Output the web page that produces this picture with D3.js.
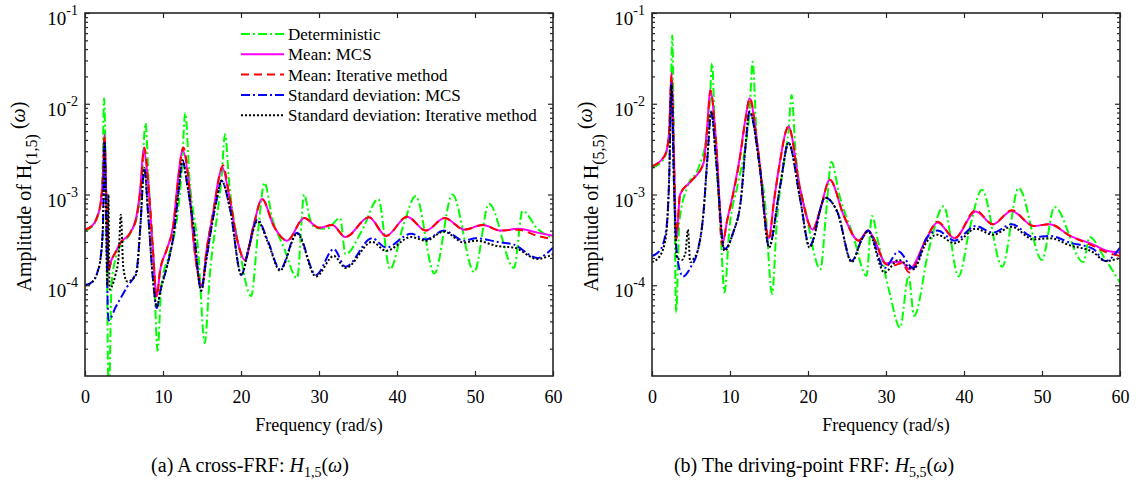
<!DOCTYPE html>
<html>
<head>
<meta charset="utf-8">
<script src="https://cdn.jsdelivr.net/npm/d3@7"></script>
<style>
  body { margin: 0; background: #fff; }
  svg { display: block; }
  text { font-family: "Liberation Serif", "Times New Roman", serif; fill: #000; }
</style>
</head>
<body>
<svg id="chart" width="1141" height="484"></svg>
<script>
// ---- data: [frequency (rad/s), amplitude] ----
const xTicks = [0, 10, 20, 30, 40, 50, 60];
const yTickExps = [-1, -2, -3, -4];

// (a) cross-FRF H(1,5)
const detA = [[0,4.0e-4],[1,4.5e-4],[1.8,6.5e-4],[2.2,1.3e-3],[2.45,1.15e-2],[2.75,5e-4],[3.05,5e-6],[3.4,1.0e-4],[3.8,1.8e-4],[4.5,2.7e-4],[5.8,3.7e-4],[6.8,6.5e-4],[7.3,1.5e-3],[7.75,6.1e-3],[8.2,1.2e-3],[8.8,2.0e-4],[9.3,1.9e-5],[9.8,1.0e-4],[10.8,2.2e-4],[11.8,5.5e-4],[12.4,1.8e-3],[12.85,7.9e-3],[13.4,1.5e-3],[14.5,2.5e-4],[15.35,2.3e-5],[16.0,1.3e-4],[17.0,6.5e-4],[17.5,1.5e-3],[17.95,4.6e-3],[18.5,1.3e-3],[19.8,2.5e-4],[21.3,7.6e-5],[22.2,4e-4],[23.0,1.35e-3],[24.0,5.5e-4],[25.5,2.6e-4],[27.2,1.2e-4],[28.1,1.0e-3],[28.8,5.5e-4],[29.5,4.3e-4],[31,4.2e-4],[32.7,5.5e-4],[33.4,2.2e-4],[35.5,4.0e-4],[37.6,8.9e-4],[39.1,1.5e-4],[40.8,4.5e-4],[42.4,9.6e-4],[44.8,1.35e-4],[47.1,1.0e-3],[49.9,1.4e-4],[51.8,7.9e-4],[55,1.55e-4],[56.1,6.6e-4],[58,4.2e-4],[60,3.3e-4]];
const meanMcsA = [[0,4.1e-4],[1,4.6e-4],[1.6,5.8e-4],[2.0,8e-4],[2.3,1.6e-3],[2.5,4.6e-3],[2.7,1.2e-3],[3.05,1.5e-4],[3.4,1.9e-4],[3.9,2.3e-4],[4.5,2.9e-4],[5.8,3.8e-4],[6.6,5.8e-4],[7.1,1.2e-3],[7.5,3.1e-3],[8.1,1.35e-3],[8.7,2.5e-4],[9.2,7.5e-5],[9.6,1.4e-4],[10.5,2.5e-4],[11.3,4.5e-4],[12.0,1.7e-3],[12.5,3.1e-3],[13.3,1.35e-3],[13.9,3.2e-4],[15.0,1.0e-4],[15.6,2.5e-4],[16.5,6.9e-4],[17.1,1.45e-3],[17.6,2.0e-3],[18.4,1.05e-3],[19.5,3.2e-4],[20.5,1.9e-4],[21.6,4.5e-4],[22.7,8.9e-4],[24.2,4.5e-4],[25.9,3.1e-4],[28.1,5.5e-4],[30,4.3e-4],[31.7,4.6e-4],[33.4,3.4e-4],[36.4,5.6e-4],[38.6,3.5e-4],[41.3,5.7e-4],[43.7,4.0e-4],[46.1,5.5e-4],[48.6,4.1e-4],[51,4.6e-4],[53.3,4.0e-4],[55.5,4.2e-4],[58,3.8e-4],[60,3.5e-4]];
const meanIterA = [[0,4.1e-4],[1,4.6e-4],[1.6,5.8e-4],[2.0,8e-4],[2.3,1.6e-3],[2.5,4.5e-3],[2.7,1.2e-3],[3.05,1.5e-4],[3.4,1.9e-4],[3.9,2.3e-4],[4.5,2.9e-4],[5.8,3.8e-4],[6.6,5.6e-4],[7.1,1.1e-3],[7.6,3.3e-3],[8.1,1.4e-3],[8.7,2.5e-4],[9.2,7.5e-5],[9.6,1.4e-4],[10.5,2.5e-4],[11.3,4.4e-4],[12.0,1.6e-3],[12.6,3.3e-3],[13.3,1.4e-3],[13.9,3.2e-4],[15.0,1.0e-4],[15.6,2.5e-4],[16.5,6.8e-4],[17.1,1.4e-3],[17.7,2.1e-3],[18.4,1.1e-3],[19.5,3.2e-4],[20.5,1.9e-4],[21.6,4.5e-4],[22.7,8.9e-4],[24.2,4.5e-4],[25.9,3.1e-4],[28.1,5.5e-4],[30,4.3e-4],[31.7,4.6e-4],[33.4,3.4e-4],[36.4,5.6e-4],[38.6,3.5e-4],[41.3,5.7e-4],[43.7,4.0e-4],[46.1,5.5e-4],[48.6,4.1e-4],[51,4.6e-4],[53.3,4.0e-4],[55.5,4.1e-4],[58,3.5e-4],[60,3.2e-4]];
const stdMcsA = [[0,1.0e-4],[1,1.1e-4],[1.6,1.4e-4],[2.0,2.0e-4],[2.3,4.5e-4],[2.5,3.9e-3],[2.7,6e-4],[3.0,4.1e-5],[4.0,5.9e-5],[5.4,9.6e-5],[6.6,1.45e-4],[7.1,4.5e-4],[7.6,1.96e-3],[8.1,6e-4],[8.7,1.2e-4],[9.2,5.6e-5],[9.7,9e-5],[10.5,1.6e-4],[11.4,3.8e-4],[12.0,1.1e-3],[12.5,2.37e-3],[13.1,1.3e-3],[13.9,4.5e-4],[14.9,8.7e-5],[15.5,1.8e-4],[16.1,3.8e-4],[16.9,9e-4],[17.5,1.42e-3],[18.6,6.9e-4],[20.05,1.3e-4],[21.0,2.6e-4],[22.1,5.3e-4],[23.5,3.0e-4],[25,1.5e-4],[27.2,3.8e-4],[29.6,1.3e-4],[31.9,2.5e-4],[33.4,1.6e-4],[36.8,3.3e-4],[38.6,2.6e-4],[41.8,3.7e-4],[43.7,3.2e-4],[46,4.0e-4],[48.6,3.1e-4],[50.1,3.3e-4],[52.9,3.0e-4],[55,2.8e-4],[58,2.0e-4],[60,2.6e-4]];
const stdIterA = [[0,1.0e-4],[1,1.1e-4],[1.6,1.4e-4],[2.0,2.0e-4],[2.3,4.5e-4],[2.5,3.7e-3],[2.7,6e-4],[2.85,1.0e-4],[3.0,1.0e-3],[3.15,9e-5],[3.4,9.5e-5],[3.9,1.3e-4],[4.3,2.0e-4],[4.6,6.0e-4],[4.9,1.6e-4],[5.4,1.1e-4],[6.0,1.15e-4],[6.6,1.35e-4],[7.1,4.5e-4],[7.6,1.96e-3],[8.1,6e-4],[8.7,1.2e-4],[9.2,5.8e-5],[9.7,9e-5],[10.5,1.6e-4],[11.4,3.8e-4],[12.0,1.1e-3],[12.5,2.37e-3],[13.1,1.3e-3],[13.9,4.5e-4],[14.9,8.7e-5],[15.5,1.8e-4],[16.1,3.8e-4],[16.9,9e-4],[17.5,1.42e-3],[18.6,6.9e-4],[20.05,1.3e-4],[21.0,2.6e-4],[22.1,5.1e-4],[23.5,2.9e-4],[25,1.45e-4],[27.2,3.7e-4],[29.6,1.25e-4],[31.9,2.1e-4],[33.4,1.55e-4],[36.8,3.0e-4],[38.6,2.4e-4],[41.8,3.4e-4],[43.7,3.1e-4],[46,3.9e-4],[48.6,2.95e-4],[50.1,3.1e-4],[52.9,2.7e-4],[55,2.6e-4],[58,1.95e-4],[60,2.2e-4]];

// (b) driving-point FRF H(5,5)
const detB = [[0,2.0e-3],[1,2.2e-3],[1.8,2.8e-3],[2.2,5e-3],[2.45,2e-2],[2.6,5.7e-2],[2.8,4e-3],[3.1,5e-5],[3.5,5e-4],[4.5,1.2e-3],[6.0,2.0e-3],[7.0,4.5e-3],[7.4,1e-2],[7.7,2.8e-2],[8.1,4e-3],[8.7,6e-4],[9.3,8.3e-5],[9.9,4e-4],[11,1.3e-3],[12.0,3.5e-3],[12.5,8e-3],[12.9,2.9e-2],[13.4,4.5e-3],[14.5,8e-4],[15.4,8e-5],[16.0,5e-4],[17.0,2.5e-3],[17.5,5e-3],[17.9,1.25e-2],[18.4,3e-3],[19.8,6e-4],[21.6,1.5e-4],[22.3,6e-4],[23.0,2.3e-3],[24.0,1e-3],[25.8,3.5e-4],[27.5,1.27e-4],[28.2,5.8e-4],[29,3e-4],[30.5,8e-5],[31.8,3.4e-5],[32.9,1.27e-4],[33.6,4.6e-5],[35.5,2.5e-4],[37.4,7.4e-4],[39.3,1.25e-4],[40.8,4.5e-4],[42.3,1.13e-3],[44.9,1.6e-4],[47.0,1.18e-3],[50,1.9e-4],[51.6,7.3e-4],[55.3,1.8e-4],[56.1,3.4e-4],[58,2.0e-4],[60,1.07e-4]];
const meanMcsB = [[0,2.05e-3],[1,2.3e-3],[1.8,2.9e-3],[2.2,5e-3],[2.5,2.2e-2],[2.8,3e-3],[3.1,3.2e-4],[3.6,1.0e-3],[5.0,1.4e-3],[6.6,2.2e-3],[7.1,6e-3],[7.45,1.42e-2],[8.2,4e-3],[9.1,3.0e-4],[9.6,5e-4],[10.4,1.04e-3],[11.2,2.4e-3],[12.0,7e-3],[12.5,1.15e-2],[13.6,3.1e-3],[15.0,3.3e-4],[15.6,8e-4],[16.3,2.05e-3],[17.5,5.6e-3],[19.0,1.14e-3],[20.6,4.1e-4],[21.5,6.5e-4],[22.8,1.45e-3],[24.6,5.8e-4],[26.5,3.1e-4],[27.7,4.0e-4],[28.5,3.2e-4],[30,1.75e-4],[30.9,1.8e-4],[32,1.8e-4],[33,1.5e-4],[35.2,3.3e-4],[36.6,4.9e-4],[38.8,3.3e-4],[41.5,6.5e-4],[43.7,4.7e-4],[46.1,6.6e-4],[48.9,4.5e-4],[51,4.7e-4],[53.6,3.5e-4],[56.6,2.8e-4],[58.3,2.4e-4],[60,2.3e-4]];
const meanIterB = [[0,2.05e-3],[1,2.3e-3],[1.8,2.9e-3],[2.2,5e-3],[2.5,2.1e-2],[2.8,3e-3],[3.1,3.2e-4],[3.6,1.0e-3],[5.0,1.4e-3],[6.6,2.2e-3],[7.1,5.5e-3],[7.5,1.4e-2],[8.2,4e-3],[9.0,2.8e-4],[9.6,5e-4],[10.4,1.0e-3],[11.2,2.3e-3],[12.0,6.8e-3],[12.55,1.15e-2],[13.6,3.1e-3],[15.0,3.2e-4],[15.6,8e-4],[16.3,2.0e-3],[17.5,5.6e-3],[19.0,1.14e-3],[20.6,4.1e-4],[21.5,6.5e-4],[22.8,1.45e-3],[24.6,5.8e-4],[26.5,3.1e-4],[27.7,4.0e-4],[28.5,3.2e-4],[30,1.7e-4],[30.9,1.65e-4],[32,1.75e-4],[33,1.38e-4],[35.2,3.3e-4],[36.6,5.0e-4],[38.8,3.3e-4],[41.5,6.7e-4],[43.7,4.7e-4],[46.1,6.7e-4],[48.9,4.5e-4],[51,4.7e-4],[53.6,3.5e-4],[56.6,2.7e-4],[58.3,2.3e-4],[60,2.1e-4]];
const stdMcsB = [[0,2.1e-4],[1,2.4e-4],[1.8,4e-4],[2.2,1.5e-3],[2.5,1.7e-2],[2.8,1.5e-3],[3.2,2.1e-4],[4.0,1.25e-4],[5.0,1.6e-4],[5.8,2.3e-4],[6.6,6.3e-4],[7.1,2.5e-3],[7.6,8.2e-3],[8.2,2.5e-3],[9.3,2.5e-4],[10.4,3.8e-4],[11.4,8.8e-4],[12.0,3.5e-3],[12.5,8.2e-3],[13.8,2.05e-3],[15.0,2.7e-4],[16.4,1.2e-3],[17.5,3.7e-3],[19.0,8.8e-4],[20.2,2.7e-4],[22.2,9.2e-4],[23.8,6.3e-4],[25.6,1.85e-4],[26.9,3.2e-4],[27.7,4.0e-4],[29.8,1.55e-4],[31.6,2.35e-4],[33.5,1.55e-4],[35.2,3.3e-4],[36.6,4.0e-4],[38.8,3.1e-4],[41.5,4.5e-4],[43.7,3.8e-4],[46.1,4.7e-4],[48.9,3.4e-4],[51,3.5e-4],[53.6,2.95e-4],[56.6,2.5e-4],[58.1,1.85e-4],[60,2.6e-4]];
const stdIterB = [[0,1.8e-4],[1,2.1e-4],[1.8,3.5e-4],[2.2,1.5e-3],[2.5,1.6e-2],[2.8,1.5e-3],[3.2,2.0e-4],[3.8,1.9e-4],[4.3,2.3e-4],[4.6,4.1e-4],[4.9,1.8e-4],[5.4,2.0e-4],[5.8,2.3e-4],[6.6,6.3e-4],[7.1,2.5e-3],[7.6,8.2e-3],[8.2,2.5e-3],[9.3,2.4e-4],[10.4,3.8e-4],[11.4,8.8e-4],[12.0,3.5e-3],[12.5,8.2e-3],[13.8,2.05e-3],[15.0,2.6e-4],[16.4,1.2e-3],[17.5,3.7e-3],[19.0,8.8e-4],[20.2,2.6e-4],[22.2,9.2e-4],[23.8,6.3e-4],[25.6,1.8e-4],[26.9,3.2e-4],[27.7,3.9e-4],[29.8,1.38e-4],[31.6,1.9e-4],[33.5,1.5e-4],[35.2,3.0e-4],[36.6,3.6e-4],[38.8,2.9e-4],[41.5,4.2e-4],[43.7,3.6e-4],[46.1,4.4e-4],[48.9,3.2e-4],[51,3.3e-4],[53.6,2.75e-4],[56.6,2.3e-4],[58.1,1.85e-4],[60,2.0e-4]];

const legendLabels = ["Deterministic", "Mean: MCS", "Mean: Iterative method", "Standard deviation: MCS", "Standard deviation: Iterative method"];

// line styles, in drawing order
const styles = [
  { color: "#00ff00", dash: "9,3,2,3", width: 2 },
  { color: "#ff00ff", dash: null, width: 2 },
  { color: "#ff0000", dash: "8,5", width: 2 },
  { color: "#0000ff", dash: "9,3,2,3", width: 2 },
  { color: "#000000", dash: "2,2", width: 2 }
];

const svg = d3.select("#chart");
svg.append("rect").attr("width", 1141).attr("height", 484).attr("fill", "#fff");

const TOP = 13, BOTTOM = 376;

function drawPanel(opts) {
  const x = d3.scaleLinear().domain([0, 60]).range([opts.x0, opts.x1]);
  const y = d3.scaleLog().domain([1e-5, 1e-1]).range([BOTTOM, TOP]);
  const g = svg.append("g");

  const clipId = "clip-" + opts.id;
  svg.append("clipPath").attr("id", clipId)
    .append("rect").attr("x", opts.x0).attr("y", TOP)
    .attr("width", opts.x1 - opts.x0).attr("height", BOTTOM - TOP);

  const line = d3.line()
    .x(d => x(d[0]))
    .y(d => y(d[1]))
    .curve(d3.curveMonotoneX);

  const lines = g.append("g").attr("clip-path", "url(#" + clipId + ")");
  opts.series.forEach((s, i) => {
    lines.append("path")
      .attr("d", line(s))
      .attr("fill", "none")
      .attr("stroke", styles[i].color)
      .attr("stroke-width", styles[i].width)
      .attr("stroke-dasharray", styles[i].dash)
      .attr("stroke-linejoin", "round");
  });

  // minor ticks for log axis
  const minors = [];
  for (let e = -5; e < -1; e++) for (let m = 2; m <= 9; m++) minors.push(m * Math.pow(10, e));
  const majors = yTickExps.map(e => Math.pow(10, e));

  const axisColor = "#262626";
  function style(sel) {
    sel.select(".domain").remove();
    sel.selectAll("line").attr("stroke", axisColor).attr("stroke-width", 1.2);
  }

  g.append("g").attr("transform", `translate(0,${BOTTOM})`)
    .call(d3.axisBottom(x).tickValues(xTicks).tickSize(-5).tickSizeOuter(0).tickPadding(14))
    .call(style)
    .call(a => a.selectAll("text").attr("font-size", 18).attr("font-family", "Liberation Serif").attr("fill", "#000"));
  g.append("g").attr("transform", `translate(0,${TOP})`)
    .call(d3.axisTop(x).tickValues(xTicks).tickSize(-5).tickFormat("")).call(style);

  [[opts.x0, d3.axisLeft], [opts.x1, d3.axisRight]].forEach(([px, ax]) => {
    g.append("g").attr("transform", `translate(${px},0)`)
      .call(ax(y).tickValues(majors).tickSize(-5).tickFormat("")).call(style);
    g.append("g").attr("transform", `translate(${px},0)`)
      .call(ax(y).tickValues(minors).tickSize(-3).tickFormat("")).call(style);
  });

  // decade labels 10^e
  yTickExps.forEach(e => {
    const t = g.append("text")
      .attr("x", opts.x0 - 7)
      .attr("y", y(Math.pow(10, e)) + 12)
      .attr("text-anchor", "end")
      .attr("font-size", 19);
    t.append("tspan").text("10");
    t.append("tspan").attr("dy", -10).attr("font-size", 14).text(String(e));
  });

  g.append("rect")
    .attr("x", opts.x0).attr("y", TOP)
    .attr("width", opts.x1 - opts.x0).attr("height", BOTTOM - TOP)
    .attr("fill", "none").attr("stroke", axisColor).attr("stroke-width", 1.6);

  // axis titles
  g.append("text")
    .attr("x", (opts.x0 + opts.x1) / 2).attr("y", 431)
    .attr("text-anchor", "middle").attr("font-size", 18)
    .text("Frequency (rad/s)");

  const yl = g.append("text")
    .attr("transform", `translate(${opts.ylabelX},${(TOP + BOTTOM) / 2 + 2}) rotate(-90)`)
    .attr("text-anchor", "middle").attr("font-size", 20);
  yl.append("tspan").text("Amplitude of H");
  yl.append("tspan").attr("dy", 6).attr("font-size", 16).text(opts.sub);
  yl.append("tspan").attr("dy", -12).text("  (");
  yl.append("tspan").attr("font-style", "italic").text("ω");
  yl.append("tspan").text(")");

  // caption
  const cap = g.append("text")
    .attr("x", opts.capX).attr("y", 472)
    .attr("text-anchor", "middle").attr("font-size", 20);
  cap.append("tspan").text(opts.caption);
  cap.append("tspan").attr("font-style", "italic").text("H");
  cap.append("tspan").attr("dy", 5).attr("font-size", 14).text(opts.capSub);
  cap.append("tspan").attr("dy", -5).text("(");
  cap.append("tspan").attr("font-style", "italic").text("ω");
  cap.append("tspan").text(")");

  return { x, y, g };
}

drawPanel({
  id: "a", x0: 85, x1: 553, ylabelX: 31, sub: "(1,5)",
  capX: 250, caption: "(a) A cross-FRF: ", capSub: "1,5",
  series: [detA, meanMcsA, meanIterA, stdMcsA, stdIterA]
});
drawPanel({
  id: "b", x0: 652, x1: 1120, ylabelX: 598, sub: "(5,5)",
  capX: 814, caption: "(b) The driving-point FRF: ", capSub: "5,5",
  series: [detB, meanMcsB, meanIterB, stdMcsB, stdIterB]
});

// legend (inside panel a, no box)
const legend = svg.append("g");
legendLabels.forEach((lab, i) => {
  const yy = 34 + i * 20.3;
  legend.append("line")
    .attr("x1", 241).attr("x2", 284).attr("y1", yy).attr("y2", yy)
    .attr("stroke", styles[i].color).attr("stroke-width", styles[i].width)
    .attr("stroke-dasharray", styles[i].dash);
  legend.append("text")
    .attr("x", 288).attr("y", yy + 6)
    .attr("font-size", 17).text(lab);
});
</script>
</body>
</html>
